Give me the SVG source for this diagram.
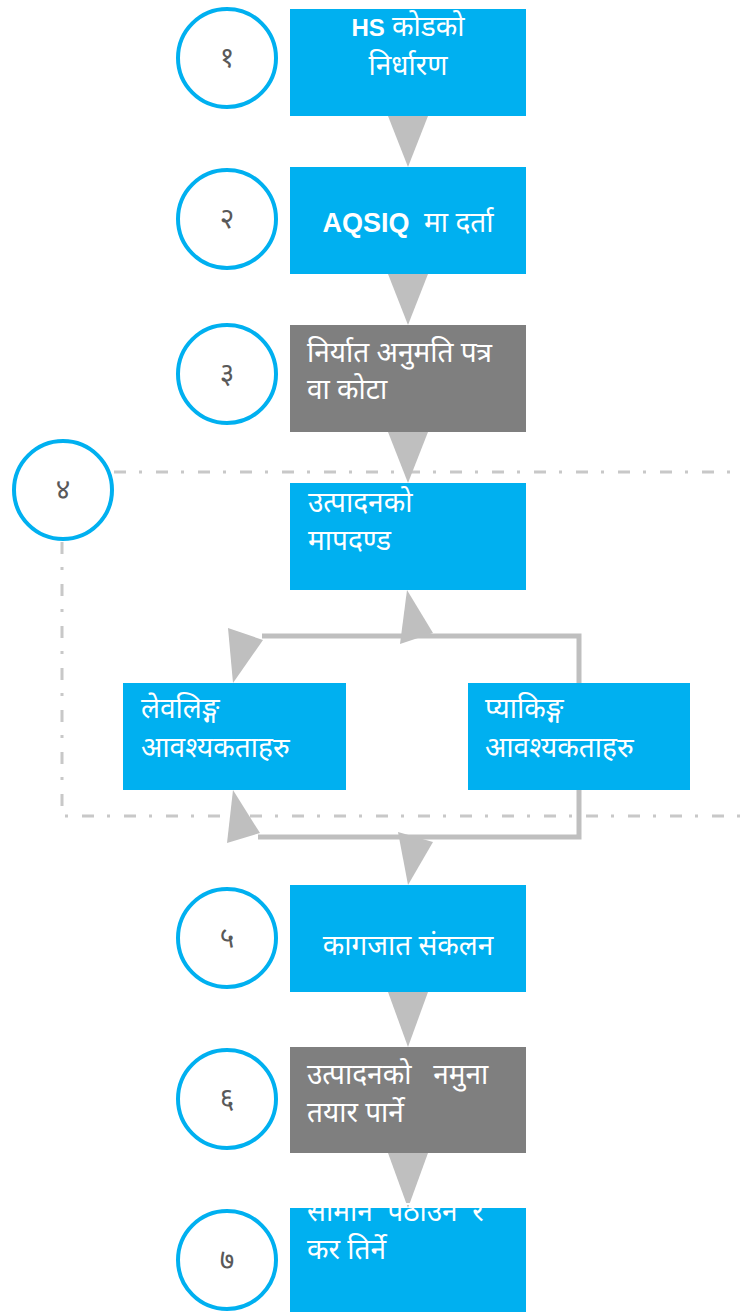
<svg xmlns="http://www.w3.org/2000/svg" width="742" height="1312" viewBox="0 0 742 1312">
<style>
.blue{fill:#00b0f0}
.gray{fill:#7f7f7f}
.step{fill:#fff;stroke:#00b0f0;stroke-width:4}
.num{font-family:"Noto Sans","DejaVu Sans",sans-serif;font-size:28px;fill:#595959;text-anchor:middle}
.t{font-family:"Noto Sans","DejaVu Sans",sans-serif;font-size:28px;fill:#fff}
.c{text-anchor:middle}
.b{font-family:"Liberation Sans",Arial,sans-serif;font-weight:bold;font-size:24px}
.b2{font-size:27px}
.arr{fill:#bfbfbf}
.ln{fill:none;stroke:#bfbfbf;stroke-width:5}
.dash{fill:none;stroke:#c8c8c8;stroke-width:3;stroke-dasharray:12 13 3 14}
</style>
<rect width="742" height="1312" fill="#fff"/>
<g id="group4-frame">
<path class="dash" d="M114,472 H742"/>
<path class="dash" d="M62,542 V816 H742"/>
</g>
<g id="connectors">
<polygon class="arr" points="388,116 428,116 408,167"/>
<polygon class="arr" points="388,274 428,274 408,325"/>
<polygon class="arr" points="388,432 428,432 408,483"/>
<path class="ln" d="M579,683 V636 H262"/>
<polygon class="arr" points="228,628 263,640 233,683"/>
<polygon class="arr" points="407,590 433,633 400,644"/>
<path class="ln" d="M579,790 V837 H258"/>
<polygon class="arr" points="233,790 260,833 227,843"/>
<polygon class="arr" points="398,832 433,842 408,885"/>
<polygon class="arr" points="388,992 428,992 408,1047"/>
<polygon class="arr" points="388,1153 428,1153 408,1208"/>
</g>
<g id="node1">
<circle class="step" cx="227" cy="58" r="49"/>
<text class="num" x="227" y="67">१</text>
<rect class="blue" x="290" y="9" width="236" height="107"/>
<text class="t c" x="408" y="36"><tspan class="b">HS</tspan> कोडको</text>
<text class="t c" x="408" y="75">निर्धारण</text>
</g>
<g id="node2">
<circle class="step" cx="227" cy="219" r="49"/>
<text class="num" x="227" y="228">२</text>
<rect class="blue" x="290" y="167" width="236" height="107"/>
<text class="t c" x="408" y="232" xml:space="preserve"><tspan class="b b2">AQSIQ</tspan>  मा दर्ता</text>
</g>
<g id="node3">
<circle class="step" cx="227" cy="374" r="49"/>
<text class="num" x="227" y="383">३</text>
<rect class="gray" x="290" y="325" width="236" height="107"/>
<text class="t" x="307" y="362">निर्यात अनुमति पत्र</text>
<text class="t" x="307" y="399">वा कोटा</text>
</g>
<g id="node4">
<circle class="step" cx="63" cy="490" r="49"/>
<text class="num" x="63" y="499">४</text>
<rect class="blue" x="290" y="483" width="236" height="107"/>
<text class="t" x="308" y="512">उत्पादनको</text>
<text class="t" x="308" y="550">मापदण्ड</text>
</g>
<g id="node-labelling">
<rect class="blue" x="123" y="683" width="223" height="107"/>
<text class="t" x="141" y="718">लेवलिङ्ग</text>
<text class="t" x="141" y="757">आवश्यकताहरु</text>
</g>
<g id="node-packing">
<rect class="blue" x="468" y="683" width="222" height="107"/>
<text class="t" x="485" y="718">प्याकिङ्ग</text>
<text class="t" x="485" y="757">आवश्यकताहरु</text>
</g>
<g id="node5">
<circle class="step" cx="227" cy="938" r="49"/>
<text class="num" x="227" y="947">५</text>
<rect class="blue" x="290" y="885" width="236" height="107"/>
<text class="t c" x="408" y="955">कागजात संकलन</text>
</g>
<g id="node6">
<circle class="step" cx="227" cy="1099" r="49"/>
<text class="num" x="227" y="1108">६</text>
<rect class="gray" x="290" y="1047" width="236" height="106"/>
<text class="t" x="307" y="1084" xml:space="preserve">उत्पादनको   नमुना</text>
<text class="t" x="307" y="1122">तयार पार्ने</text>
</g>
<g id="node7">
<circle class="step" cx="227" cy="1260" r="49"/>
<text class="num" x="227" y="1269">७</text>
<rect class="blue" x="290" y="1208" width="236" height="110"/>
<text class="t" x="307" y="1221" xml:space="preserve">सामान  पठाउन  र</text>
<text class="t" x="307" y="1259">कर तिर्ने</text>
</g>
</svg>
